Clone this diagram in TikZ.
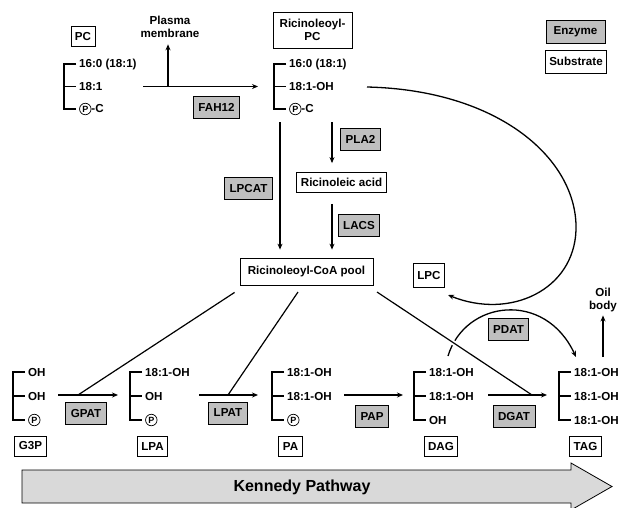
\documentclass[tikz,border=0pt]{standalone}
\usepackage{fontspec}
\setmainfont{Liberation Sans}
\usetikzlibrary{positioning,arrows.meta}
\definecolor{enzgray}{HTML}{BFBFBF}
\definecolor{kengray}{HTML}{D9D9D9}
\newcommand{\circP}{\tikz[baseline=(cpn.base)]\node[draw,circle,inner sep=0pt,minimum size=11.5pt,line width=0.7pt,font=\fontsize{9}{9}\selectfont\bfseries] (cpn) {P};}

\begin{document}
\begin{tikzpicture}[x=1pt,y=-1pt,>={Stealth[length=6pt,width=5pt]},
  every node/.style={font=\fontsize{11.6}{13}\selectfont\bfseries},
  enzyme/.style={draw,fill=enzgray,line width=0.8pt,inner xsep=5pt,minimum height=22pt},
  substrate/.style={draw,fill=white,line width=0.8pt,inner xsep=4pt,minimum height=20pt},
  chain/.style={anchor=west,inner sep=0pt},
  bond/.style={line width=1.5pt},
  flow/.style={->,line width=1.3pt}]
\useasboundingbox (0,0) rectangle (621,507);
% legend
\node[enzyme,minimum width=59pt,minimum height=23pt] (legenz) at (575.5,31.5) {Enzyme};
\node[substrate,minimum width=60pt,minimum height=23pt] (legsub) at (576,61.5) {Substrate};
% PC and ricinoleoyl-PC
\node[substrate] (pc) at (83,36.5) {PC};
\draw[bond] (76,64) -- (64,64) -- (64,109) -- (76,109) (64,86.5) -- (76,86.5);
\node[chain] (pc-a) at (79,64) {16:0 (18:1)};
\node[chain] (pc-b) at (79,86.5) {18:1};
\node[chain] (pc-c) at (79,109) {\circP-C};
\node[substrate,align=center,minimum width=79pt,minimum height=36pt] (ricpc) at (312.5,30) {Ricinoleoyl-\\PC};
\draw[bond] (286,64) -- (274,64) -- (274,109) -- (286,109) (274,86.5) -- (286,86.5);
\node[chain] (ricpc-a) at (289,64) {16:0 (18:1)};
\node[chain] (ricpc-b) at (289,86.5) {18:1-OH};
\node[chain] (ricpc-c) at (289,109) {\circP-C};
\node[align=center] (memb) at (170,27) {Plasma\\membrane};
\node[enzyme] (fah12) at (216.5,107.5) {FAH12};
\coordinate (fahs) at (143,86.5);
\coordinate (fahe) at (258,86.5);
\coordinate (membs) at (168,86.5);
\draw[flow] (fahs) -- (fahe);
\draw[flow,shorten >=3pt] (membs) -- (memb.south -| membs);
% towards the CoA pool
\node[substrate] (ricacid) at (341.5,182.5) {Ricinoleic acid};
\node[substrate,minimum width=133pt,minimum height=27pt] (pool) at (306.5,271.5) {Ricinoleoyl-CoA pool};
\node[enzyme] (pla2) at (360.5,139.5) {PLA2};
\node[enzyme] (lpcat) at (248.5,188.5) {LPCAT};
\node[enzyme] (lacs) at (359,225) {LACS};
\coordinate (lpcats) at (280,122);
\coordinate (pla2s) at (332,122);
\draw[flow,shorten >=8pt] (lpcats) -- (lpcats |- pool.north);
\draw[flow,shorten >=9pt] (pla2s) -- (pla2s |- ricacid.north);
\draw[flow,shorten <=11pt,shorten >=8pt] (ricacid.south -| pla2s) -- (pla2s |- pool.north);
% Kennedy pathway
\foreach \bx/\nm/\la/\lb/\lc in {13/g3p/OH/OH/\circP, 130/lpa/18:1-OH/OH/\circP,
    272/pa/18:1-OH/18:1-OH/\circP, 414/dag/18:1-OH/18:1-OH/OH, 559/tag/18:1-OH/18:1-OH/18:1-OH}{
  \draw[bond] (\bx+12,372) -- (\bx,372) -- (\bx,420) -- (\bx+12,420) (\bx,396) -- (\bx+12,396);
  \node[chain] (\nm-a) at (\bx+15,372) {\la};
  \node[chain] (\nm-b) at (\bx+15,396) {\lb};
  \node[chain] (\nm-c) at (\bx+15,420) {\lc};
}
\node[substrate] (g3p) at (30.5,446) {G3P};
\node[substrate] (lpa) at (152.5,446) {LPA};
\node[substrate] (pa) at (290.5,446) {PA};
\node[substrate] (dag) at (441,446) {DAG};
\node[substrate] (tag) at (585.5,446) {TAG};
\node[enzyme] (gpat) at (86,413) {GPAT};
\node[enzyme] (lpat) at (228,413) {LPAT};
\node[enzyme] (pap) at (372,416) {PAP};
\node[enzyme] (dgat) at (514,416) {DGAT};
\node[enzyme] (pdat) at (508.5,329.5) {PDAT};
\node[substrate,minimum height=24pt] (lpc) at (429,275) {LPC};
\node[align=center] (oil) at (603,300) {Oil\\body};
\coordinate (gpatm) at (78,395);
\coordinate (lpatm) at (228,395);
\coordinate (dgatm) at (532,395);
\coordinate (c1s) at (367,87);
\coordinate (c1e) at (448,295);
\coordinate (c2s) at (448,356);
\coordinate (c2e) at (576,357);
\coordinate (oils) at (603,357);
\draw[flow] (c1s) .. controls (500,90) and (578,160) .. (576,230)
  .. controls (574,290) and (510,320) .. (c1e);
\draw[flow] (c2s) .. controls (465,300) and (545,290) .. (c2e);
\draw[line width=1.2pt] (pool.south west) ++(-5,7) -- (gpatm);
\draw[line width=1.2pt] (298,292) -- (lpatm);
\draw[line width=1.2pt,preaction={draw,white,line width=5pt,shorten >=12pt}] (377,292) -- (dgatm);
\draw[flow] (58,395) -- (118,395);
\draw[flow] (199,395) -- (258,395);
\draw[flow] (344,395) -- (403,395);
\draw[flow] (488,395) -- (547,395);
\draw[flow] (oils) -- (oil.south);
\draw[fill=kengray,line width=0.8pt] (22,470) -- (571,470) -- (571,463) -- (612,486.5)
  -- (571,510) -- (571,503) -- (22,503) -- cycle;
\node[font=\fontsize{16}{18}\selectfont\bfseries] (kp) at (302,487) {Kennedy Pathway};
\end{tikzpicture}
\end{document}
